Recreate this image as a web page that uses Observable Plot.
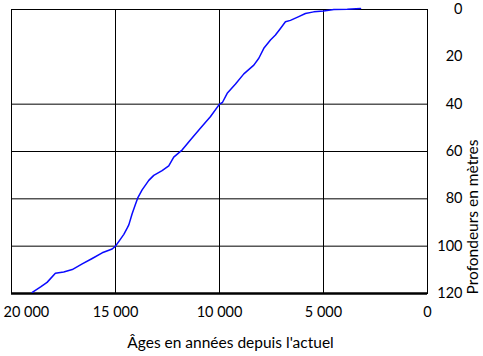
<!DOCTYPE html>
<html>
<head>
<meta charset="utf-8">
<script src="https://cdn.jsdelivr.net/npm/d3@7"></script>
<script src="https://cdn.jsdelivr.net/npm/@observablehq/plot@0.6"></script>
<style>
  html, body { margin: 0; padding: 0; background: #fff; }
  svg { display: block; }
</style>
</head>
<body>
<div id="chart"></div>
<script>
// Ages (years before present) and depths (m)
const ages = [19000, 18600, 18290, 17890, 17490, 17080, 16600, 16120, 15640, 15160, 15000, 14760, 14600, 14440, 14360, 14200, 14040, 13930, 13720, 13400, 13160, 12760, 12440, 12200, 11790, 11400, 10910, 10430, 10000, 9860, 9630, 9230, 8830, 8350, 8110, 7870, 7550, 7310, 7070, 6830, 6590, 6190, 5870, 5470, 5000, 4500, 3860, 3220];
const depths = [119.5, 117.2, 115.3, 111.4, 110.9, 109.9, 107.5, 105.2, 102.8, 101.2, 100, 97.0, 95.0, 92.4, 91.0, 86.3, 82.3, 79.6, 76.2, 72.2, 70.1, 68.1, 66.1, 62.4, 59.3, 55.1, 50.1, 45.2, 40, 39.3, 35.4, 31.5, 27.2, 23.5, 20.6, 16.4, 12.9, 10.8, 8.0, 5.2, 4.6, 3.0, 1.7, 1.0, 0.6, 0, -0.1, -0.4];

const xTicks = [20000, 15000, 10000, 5000, 0];
const xGrid = [15000, 10000, 5000];
const yTicks = [0, 20, 40, 60, 80, 100, 120];
const yGrid = [40, 60, 80, 100];
const xTitle = "Âges en années depuis l'actuel";
const yTitle = "Profondeurs en mètres";

const data = ages.map((a, i) => ({age: a, depth: depths[i]}));
const fmt = d => d3.format(",")(d).replace(/,/g, " ");
const font = "Lato, 'Open Sans', sans-serif";

const chart = Plot.plot({
  width: 483,
  height: 356,
  marginLeft: 11,
  marginRight: 56,
  marginTop: 9,
  marginBottom: 63,
  style: {fontFamily: font, fontSize: "14px", background: "#fff"},
  x: {domain: [20000, 0], axis: null},
  y: {domain: [0, 120], reverse: true, axis: null},
  marks: [
    Plot.ruleX(xGrid, {stroke: "#000", strokeWidth: 1}),
    Plot.ruleY(yGrid, {stroke: "#000", strokeWidth: 1}),
    Plot.frame({stroke: "#000", strokeWidth: 1}),
    Plot.ruleY([120], {stroke: "#000", strokeWidth: 2.5}),
    Plot.line(data, {x: "age", y: "depth", stroke: "#0a0aff", strokeWidth: 1.5}),
    // right-hand depth labels
    Plot.text(yTicks, {x: () => 0, y: d => d, text: d => String(d), textAnchor: "end", dx: 35, fill: "#000", fontSize: 14.5}),
    // bottom age labels
    Plot.text(xTicks.filter(d => d !== 20000), {x: d => d, y: () => 120, text: fmt, dy: 19, fill: "#000", fontSize: 14.5}),
    Plot.text(xTicks.filter(d => d === 20000), {x: d => d, y: () => 120, text: fmt, dy: 19, dx: -8, textAnchor: "start", fill: "#000", fontSize: 14.5}),
    // axis titles
    Plot.text([xTitle], {frameAnchor: "bottom", text: d => d, dy: 54, dx: 11, fill: "#000", fontSize: 15.5}),
    Plot.text([yTitle], {frameAnchor: "right", text: d => d, rotate: -90, dx: 46, dy: -12, fill: "#000", fontSize: 15.5})
  ]
});
document.getElementById("chart").append(chart);
</script>
</body>
</html>
